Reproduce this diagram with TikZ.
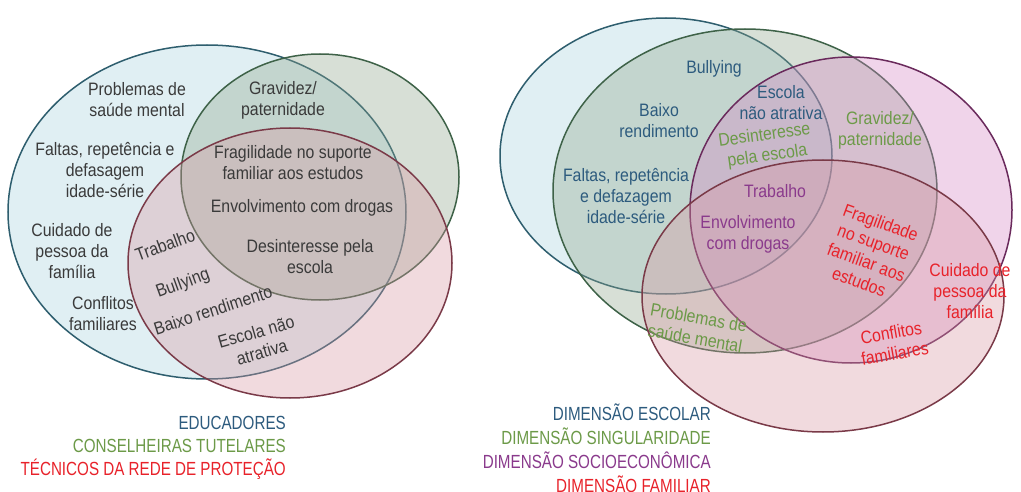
\documentclass[tikz,border=0pt]{standalone}
\usepackage{fontspec}
\newfontfamily\vennfont[FakeStretch=0.88]{Liberation Sans}
\newfontfamily\legfont[FakeStretch=0.8]{Liberation Sans}
\definecolor{vnBlueLine}{HTML}{2E5E6E}
\definecolor{vnBlueFill}{HTML}{A8D2DE}
\definecolor{vnGreenLine}{HTML}{3E6248}
\definecolor{vnGreenFill}{HTML}{8FA58A}
\definecolor{vnRedLine}{HTML}{7A3A48}
\definecolor{vnRedFill}{HTML}{D897A2}
\definecolor{vnPurpleLine}{HTML}{6A2A5C}
\definecolor{vnPurpleFill}{HTML}{D584C4}
\definecolor{vnText}{HTML}{3A3A3A}
\definecolor{dmBlue}{HTML}{2D5B7E}
\definecolor{dmGreen}{HTML}{6C9A48}
\definecolor{dmPurple}{HTML}{8A3A8C}
\definecolor{dmRed}{HTML}{E8222A}
\usetikzlibrary{positioning}

\begin{document}
\begin{tikzpicture}[x=1pt, y=-1pt,
  lbl/.style={font=\vennfont\fontsize{18}{21}\selectfont, align=center, inner sep=0pt, text=vnText},
  leg/.style={font=\legfont\fontsize{19}{21}\selectfont, anchor=base east, inner sep=0pt},
  ring/.style={line width=1.5pt, fill opacity=0.35}]
  \useasboundingbox[fill=white] (0,0) rectangle (1021,492);

  % educadores / conselheiras / tecnicos
  \draw[ring, draw=vnBlueLine, fill=vnBlueFill] (207,212) ellipse [x radius=199, y radius=167];
  \draw[ring, draw=vnGreenLine, fill=vnGreenFill] (320,177) ellipse [x radius=139, y radius=123];
  \draw[ring, draw=vnRedLine, fill=vnRedFill] (290,263) ellipse [x radius=162, y radius=135];

  \node[lbl] (saude) at (137,100) {Problemas de\\saúde mental};
  \node[lbl] (gravidez) at (283,100) {Gravidez/\\paternidade};
  \node[lbl] (faltas) at (105,170) {Faltas, repetência e\\defasagem\\idade-série};
  \node[lbl] (fragil) at (293,163) {Fragilidade no suporte\\familiar aos estudos};
  \node[lbl] (drogas) at (302,208) {Envolvimento com drogas};
  \node[lbl] (cuidado) at (72,251) {Cuidado de\\pessoa da\\família};
  \node[lbl] (desint) at (310,257) {Desinteresse pela\\escola};
  \node[lbl, rotate=20] (trab) at (165,245) {Trabalho};
  \node[lbl, rotate=20] (bully) at (183,284) {Bullying};
  \node[lbl] (conflit) at (103,314) {Conflitos\\familiares};
  \node[lbl, rotate=18] (baixo) at (213,310) {Baixo rendimento};
  \node[lbl, rotate=16] (escola) at (259,342) {Escola não\\atrativa};

  % dimensoes
  \draw[ring, draw=vnBlueLine, fill=vnBlueFill] (666,156) ellipse [x radius=166, y radius=138];
  \draw[ring, draw=vnGreenLine, fill=vnGreenFill] (745,191) ellipse [x radius=192, y radius=162];
  \draw[ring, draw=vnPurpleLine, fill=vnPurpleFill] (851,210) ellipse [x radius=161, y radius=153];
  \draw[ring, draw=vnRedLine, fill=vnRedFill] (823,296) ellipse [x radius=181, y radius=136];

  \node[lbl, text=dmBlue] (rbully) at (714,69) {Bullying};
  \node[lbl, text=dmBlue] (rescola) at (781,103) {Escola\\não atrativa};
  \node[lbl, text=dmBlue] (rbaixo) at (659,121) {Baixo\\rendimento};
  \node[lbl, text=dmGreen] (rgrav) at (880,130) {Gravidez/\\paternidade};
  \node[lbl, text=dmGreen, rotate=8] (rdesint) at (766,146) {Desinteresse\\pela escola};
  \node[lbl, text=dmBlue] (rfaltas) at (626,196) {Faltas, repetência\\e defazagem\\idade-série};
  \node[lbl, text=dmPurple] (rtrab) at (775,191) {Trabalho};
  \node[lbl, text=dmPurple] (rdrogas) at (748,234) {Envolvimento\\com drogas};
  \node[lbl, text=dmRed, rotate=-20] (rfragil) at (870,252) {Fragilidade\\no suporte\\familiar aos\\estudos};
  \node[lbl, text=dmRed] (rcuidado) at (970,291) {Cuidado de\\pessoa da\\família};
  \node[lbl, text=dmGreen, rotate=-10] (rsaude) at (697,328) {Problemas de\\saúde mental};
  \node[lbl, text=dmRed, rotate=10] (rconflit) at (893,343) {Conflitos\\familiares};

  % legendas
  \node[leg, text=dmBlue] (educ) at (286,429) {EDUCADORES};
  \node[leg, text=dmGreen] (cons) at (286,452) {CONSELHEIRAS TUTELARES};
  \node[leg, text=dmRed] (tecn) at (286,475) {TÉCNICOS DA REDE DE PROTEÇÃO};
  \node[leg, text=dmBlue] (escolar) at (711,420) {DIMENSÃO ESCOLAR};
  \node[leg, text=dmGreen] (singul) at (711,444) {DIMENSÃO SINGULARIDADE};
  \node[leg, text=dmPurple] (socio) at (711,468) {DIMENSÃO SOCIOECONÔMICA};
  \node[leg, text=dmRed] (famil) at (711,492) {DIMENSÃO FAMILIAR};
\end{tikzpicture}
\end{document}
